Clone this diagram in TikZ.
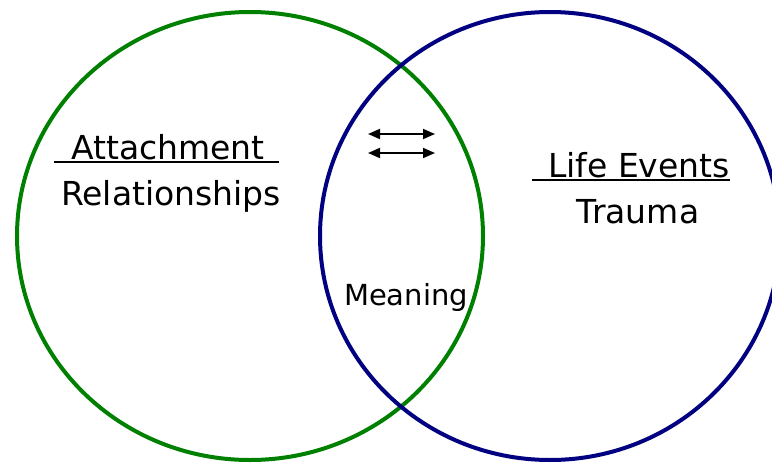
\documentclass[tikz,border=0pt]{standalone}
\usepackage{fontspec}
\setmainfont{DejaVu Sans}
\usepackage{xcolor}
\usepackage{tikz}
\usetikzlibrary{arrows.meta,positioning}
\definecolor{ringgreen}{RGB}{0,128,0}
\definecolor{ringblue}{RGB}{0,0,128}

\begin{document}
\begin{tikzpicture}[x=1pt, y=-1pt,
    ring/.style={line width=4pt},
    lbl/.style={anchor=base, inner sep=0pt, font=\fontsize{33}{39}\selectfont},
    small/.style={anchor=base, inner sep=0pt, font=\fontsize{29}{35}\selectfont},
    uline/.style={line width=1.9pt},
    arr/.style={{Triangle[length=12pt,width=10pt]}-{Triangle[length=12pt,width=10pt]}, line width=1.8pt}
]
\useasboundingbox (0,0) rectangle (772,463);
\draw[ring, ringgreen] (250,236) ellipse [x radius=233pt, y radius=224pt];
\draw[ring, ringblue] (550,236) ellipse [x radius=230pt, y radius=224pt];
\node[lbl] (attach) at (168,159) {Attachment};
\node[lbl] (relat) at (171,205) {Relationships};
\node[lbl] (life) at (639,177) {Life Events};
\node[lbl] (trauma) at (638,223) {Trauma};
\node[small] (meaning) at (406,305) {Meaning};
\draw[uline] ([shift={(-17,3)}]attach.base west) -- ([shift={(14,3)}]attach.base east);
\draw[uline] ([shift={(-16,3)}]life.base west) -- ([shift={(0,3)}]life.base east);
\coordinate (topl) at (368,134);
\coordinate (topr) at (435,134);
\coordinate (botl) at (368,153);
\coordinate (botr) at (435,153);
\draw[arr] (topl) -- (topr);
\draw[arr] (botl) -- (botr);
\end{tikzpicture}
\end{document}
